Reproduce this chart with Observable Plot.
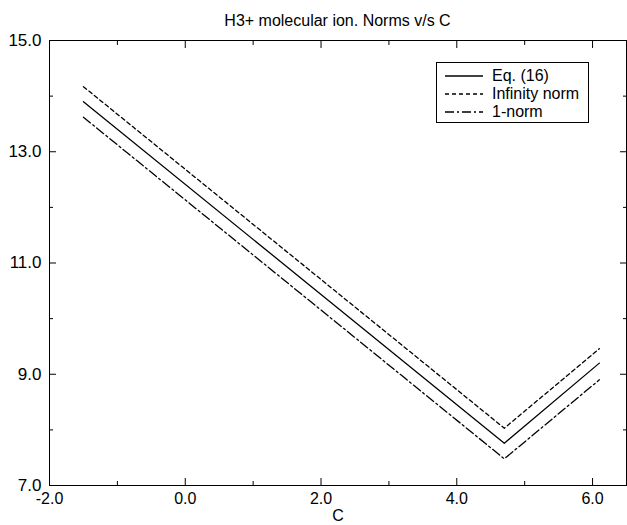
<!DOCTYPE html>
<html><head><meta charset="utf-8">
<script src="https://cdn.jsdelivr.net/npm/d3@7"></script>
<script src="https://cdn.jsdelivr.net/npm/@observablehq/plot@0.6"></script>
<style>
body{margin:0;background:#fff;font-family:"Liberation Sans",Arial,sans-serif;color:#000;}
#wrap{position:relative;width:627px;height:525px;}
#title{position:absolute;left:49px;width:577px;top:12px;text-align:center;font-size:16px;line-height:18px;}
#chart{position:absolute;left:0;top:30px;}
#legend{position:absolute;left:436px;top:62px;width:151px;height:59px;border:1px solid #000;background:#fff;font-size:16px;}
.row{position:absolute;left:0;height:18px;line-height:18px;width:150px;}
.row svg{position:absolute;left:8px;top:4px;}
.row span{position:absolute;left:55px;top:0;}
</style></head><body>
<div id="wrap">
<div id="title"></div>
<div id="chart"></div>
<div id="legend"></div>
</div>
<script>
const titleText = "H3+ molecular ion. Norms v/s C";
const xLabel = "C";
const cValues = [-1.5, 4.7, 6.1];
const eq16 = [13.9, 7.76, 9.2];
const infNorm = [14.17, 8.03, 9.46];
const oneNorm = [13.62, 7.48, 8.9];
const seriesNames = ["Eq. (16)", "Infinity norm", "1-norm"];
const seriesDash = ["none", "4,3", "9,3,2,3"];
const xTicks = [-2, 0, 2, 4, 6];
const xMinor = [-1, 1, 3, 5];
const yTicks = [7, 9, 11, 13, 15];
const yMinor = [8, 10, 12, 14];

document.getElementById("title").textContent = titleText;

const seriesVals = [eq16, infNorm, oneNorm];
const data = [];
seriesNames.forEach((s, i) => cValues.forEach((c, j) => data.push({series: s, c, v: seriesVals[i][j]})));

const fmt = d => d.toFixed(1);
const lines = seriesNames.map((s, i) => Plot.line(data.filter(d => d.series === s), {
  x: "c", y: "v", stroke: "#000", strokeWidth: 1.3, strokeDasharray: seriesDash[i] === "none" ? null : seriesDash[i]
}));

const chart = Plot.plot({
  width: 627, height: 495,
  marginTop: 10, marginBottom: 40, marginLeft: 49, marginRight: 1,
  style: {fontFamily: "'Liberation Sans', Arial, sans-serif", fontSize: "16px", background: "#fff", color: "#000"},
  x: {domain: [-2, 6.5]},
  y: {domain: [7, 15]},
  marks: [
    Plot.frame({stroke: "#000"}),
    Plot.axisX(xTicks, {anchor: "bottom", tickSize: 0, tickPadding: 7, tickFormat: fmt, fontSize: 16, label: null}),
    Plot.axisX(xTicks, {anchor: "bottom", tickSize: -7, tickFormat: () => "", label: null}),
    Plot.axisX(xMinor, {anchor: "bottom", tickSize: -4, tickFormat: () => "", label: null}),
    Plot.axisX(xTicks, {anchor: "top", tickSize: -7, tickFormat: () => "", label: null}),
    Plot.axisX(xMinor, {anchor: "top", tickSize: -4, tickFormat: () => "", label: null}),
    Plot.axisY(yTicks, {anchor: "left", tickSize: 0, tickPadding: 8, tickFormat: fmt, fontSize: 17, label: null}),
    Plot.axisY(yTicks, {anchor: "left", tickSize: -7, tickFormat: () => "", label: null}),
    Plot.axisY(yMinor, {anchor: "left", tickSize: -4, tickFormat: () => "", label: null}),
    Plot.axisY(yTicks, {anchor: "right", tickSize: -7, tickFormat: () => "", label: null}),
    Plot.axisY(yMinor, {anchor: "right", tickSize: -4, tickFormat: () => "", label: null}),
    Plot.text([xLabel], {text: d => d, frameAnchor: "bottom", dy: 35, fontSize: 16}),
    ...lines
  ]
});
document.getElementById("chart").appendChild(chart);

const legend = document.getElementById("legend");
seriesNames.forEach((s, i) => {
  const row = document.createElement("div");
  row.className = "row";
  row.style.top = (4 + i * 18) + "px";
  const dash = seriesDash[i] === "none" ? "" : ` stroke-dasharray="${seriesDash[i]}"`;
  row.innerHTML = `<svg width="38" height="10"><line x1="0" y1="5" x2="38" y2="5" stroke="#000" stroke-width="1.3"${dash}/></svg><span></span>`;
  row.querySelector("span").textContent = s;
  legend.appendChild(row);
});
</script>
</body></html>
